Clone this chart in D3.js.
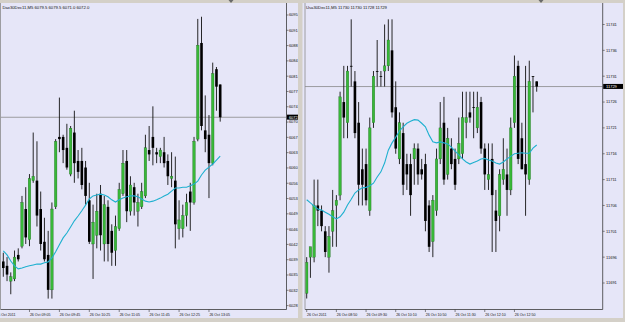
<!DOCTYPE html>
<html>
<head>
<meta charset="utf-8">
<script src="https://cdn.jsdelivr.net/npm/d3@7/dist/d3.min.js"></script>
<style>
  body { margin: 0; background: #d4d0c8; }
  svg { display: block; }
  text { font-family: "Liberation Sans", Arial, sans-serif; }
</style>
</head>
<body>
<div id="chart"></div>
<script>
// ---- Dax30Dec11, M5 (left window) ----
const daxOpen  = [6039.0,6038.0,6034.5,6035.0,6040.5,6042.5,6051.0,6044.0,6057.5,6057.5,6051.0,6043.5,6040.5,6032.5,6051.5,6067.5,6067.5,6065.0,6059.0,6068.5,6062.0,6062.0,6060.5,6053.0,6043.0,6045.0,6054.5,6043.0,6051.5,6046.0,6041.5,6046.5,6054.5,6062.0,6050.5,6056.0,6050.5,6051.5,6054.0,6064.5,6067.5,6064.0,6063.0,6064.0,6062.0,6058.0,6057.5,6046.5,6046.5,6049.5,6055.0,6052.5,6067.0,6089.0,6069.0,6068.0,6061.5,6083.0,6079.5];
const daxHigh  = [6041.0,6040.0,6036.5,6041.5,6042.0,6054.0,6056.0,6059.0,6068.5,6066.5,6055.0,6049.0,6046.0,6052.5,6067.0,6076.5,6068.0,6070.5,6070.0,6073.5,6064.5,6065.0,6062.0,6057.0,6052.0,6054.5,6056.5,6054.0,6053.0,6047.5,6049.5,6057.0,6064.5,6064.5,6058.5,6057.0,6054.5,6057.0,6068.0,6070.0,6074.5,6065.0,6065.0,6067.5,6063.5,6064.0,6063.0,6053.0,6052.0,6054.5,6057.0,6067.5,6094.5,6095.0,6077.0,6072.5,6084.5,6083.5,6079.5];
const daxLow   = [6035.5,6034.5,6031.5,6034.5,6039.0,6042.0,6043.0,6042.5,6057.0,6047.0,6041.5,6039.0,6030.5,6030.5,6051.0,6064.0,6061.5,6060.0,6058.5,6057.0,6058.0,6055.5,6052.0,6043.0,6035.0,6042.0,6041.5,6039.0,6039.0,6038.0,6038.0,6046.0,6054.0,6048.0,6049.5,6049.5,6047.0,6051.0,6053.5,6062.0,6061.0,6061.5,6061.5,6060.5,6056.5,6056.0,6042.0,6044.0,6044.5,6047.0,6046.0,6052.0,6066.5,6069.0,6064.0,6053.5,6061.0,6073.5,6071.0];
const daxClose = [6037.5,6036.0,6035.5,6040.0,6039.5,6052.5,6044.5,6058.0,6058.5,6049.5,6043.0,6039.5,6032.5,6051.0,6066.5,6067.0,6064.5,6060.5,6069.5,6061.5,6059.5,6056.5,6054.0,6043.5,6048.0,6050.5,6045.0,6052.0,6043.0,6041.0,6047.0,6055.5,6061.5,6050.5,6056.5,6052.5,6052.5,6055.0,6065.0,6063.5,6065.0,6063.5,6064.5,6061.5,6058.5,6058.5,6047.5,6048.5,6049.5,6052.5,6052.5,6066.5,6088.5,6070.0,6067.0,6061.5,6082.0,6079.0,6072.0];
const daxMA    = [6041.4,6040.5,6039.1,6038.0,6037.3,6037.5,6037.8,6038.0,6038.2,6038.4,6038.4,6038.7,6038.9,6039.8,6041.2,6042.8,6044.4,6045.5,6046.9,6048.3,6049.4,6050.6,6051.9,6053.3,6054.0,6054.2,6054.4,6054.2,6053.8,6053.1,6052.6,6053.1,6053.5,6053.8,6054.0,6054.0,6053.8,6053.3,6052.8,6052.6,6052.8,6053.1,6053.5,6054.0,6054.4,6055.1,6055.8,6055.8,6056.0,6056.0,6056.3,6056.7,6057.4,6058.8,6059.9,6060.6,6061.3,6062.2,6063.1];
const daxTicks = [6028.9,6032.4,6035.9,6039.4,6042.9,6046.4,6049.9,6053.4,6056.9,6060.4,6063.9,6067.4,6070.9,6074.4,6077.9,6081.4,6084.9,6088.4,6091.9,6095.4];
const daxTimeBars   = [-2, 7, 15, 23, 31, 39, 47, 55];
const daxTimeLabels = ["26 Oct 2011","26 Oct 09:05","26 Oct 09:45","26 Oct 10:25","26 Oct 11:05","26 Oct 11:45","26 Oct 12:25","26 Oct 13:05"];
const daxTitle = "Dax30Dec11,M5  6079.5 6079.5 6071.0 6072.0";

// ---- Usa30Dec11, M5 (right window) ----
const usaOpen  = [11689,11696,11696,11706,11705,11701,11696,11701,11706,11708,11726,11722,11733,11730,11722,11713,11714,11705,11722,11732,11731,11732,11733,11736,11725,11715,11720,11714,11714,11715,11717,11713,11714,11706,11699,11705,11715,11722,11712,11717,11715,11715,11716,11722,11724,11725,11721,11726,11717,11711,11715,11705,11704,11711,11712,11709,11722,11733,11719,11714,11711,11731,11730];
const usaHigh  = [11696,11698,11711,11711,11706,11702,11702,11709,11708,11728,11733,11733,11742,11732,11726,11717,11717,11723,11732,11738,11732,11741,11742,11742,11730,11724,11722,11716,11716,11718,11718,11715,11716,11707,11708,11717,11726,11727,11721,11719,11717,11723,11728,11728,11728,11728,11728,11727,11718,11718,11718,11709,11713,11719,11717,11723,11735,11734,11722,11733,11734,11731,11730];
const usaLow   = [11688,11692,11695,11702,11701,11696,11693,11698,11698,11707,11719,11719,11729,11719,11706,11706,11706,11704,11721,11729,11729,11729,11732,11723,11716,11714,11708,11709,11704,11710,11710,11711,11701,11697,11696,11704,11714,11710,11711,11713,11709,11714,11715,11719,11722,11719,11720,11716,11709,11709,11697,11697,11701,11710,11704,11708,11721,11714,11713,11704,11710,11724,11728];
const usaClose = [11695,11698,11706,11705,11702,11697,11700,11705,11707,11727,11723,11732,11733,11720,11710,11710,11707,11721,11731,11732,11731,11733,11738,11724,11717,11722,11710,11712,11708,11717,11712,11712,11703,11698,11707,11715,11721,11711,11719,11714,11710,11718,11723,11723,11723,11725,11725,11717,11712,11712,11708,11703,11712,11713,11709,11721,11731,11715,11713,11712,11730,11731,11729];
const usaMA    = [11707.1,11706.5,11705.9,11705.3,11705.1,11704.7,11704.3,11703.8,11703.4,11703.8,11704.7,11706.1,11707.2,11708.4,11709.0,11709.4,11709.5,11709.8,11710.3,11711.5,11712.5,11714.2,11716.7,11718.1,11719.2,11720.4,11721.2,11721.9,11722.3,11722.6,11722.5,11721.9,11721.2,11719.6,11718.3,11718.1,11718.3,11718.1,11717.9,11717.3,11716.5,11715.8,11715.0,11714.4,11714.0,11714.3,11714.6,11715.0,11715.1,11714.8,11714.6,11714.2,11714.0,11714.4,11715.0,11715.5,11716.0,11716.1,11716.2,11716.1,11716.1,11717.1,11717.7];
const usaTicks = [11691,11696,11701,11706,11711,11716,11721,11726,11731,11736,11741];
const usaTimeBars   = [0, 8, 16, 24, 32, 40, 48, 56];
const usaTimeLabels = ["26 Oct 2011","26 Oct 08:50","26 Oct 09:30","26 Oct 10:10","26 Oct 10:50","26 Oct 11:30","26 Oct 12:10","26 Oct 12:50"];
const usaTitle = "Usa30Dec11,M5  11730 11730 11728 11729";

const width = 625, height = 322;
const bg = "#e6e6f8", bull = "#38b838", bear = "#000000", maColor = "#1eb0cf";

const svg = d3.select("#chart").append("svg")
    .attr("width", width)
    .attr("height", height);

svg.append("rect").attr("width", width).attr("height", height).attr("fill", "#d4d0c8");

function drawPanel(p) {
  const n = p.open.length;
  const x = d3.scaleLinear().domain([0, n - 1]).range(p.xRange);
  const y = d3.scaleLinear().domain(p.yDomain).range(p.yRange);

  const g = svg.append("g");
  g.append("rect")
    .attr("x", p.left).attr("y", 3)
    .attr("width", p.right - p.left).attr("height", 315)
    .attr("fill", bg);

  const clipId = "clip" + p.id, panelClip = "pclip" + p.id;
  svg.append("clipPath").attr("id", clipId).append("rect")
    .attr("x", p.plotLeft).attr("y", 3)
    .attr("width", p.axisX - p.plotLeft).attr("height", p.axisY - 3);
  svg.append("clipPath").attr("id", panelClip).append("rect")
    .attr("x", p.left).attr("y", 3)
    .attr("width", p.right - p.left).attr("height", 315);

  const plot = g.append("g").attr("clip-path", "url(#" + clipId + ")");

  // current price line
  const last = p.close[n - 1];
  plot.append("line")
    .attr("x1", p.plotLeft).attr("x2", p.axisX)
    .attr("y1", y(last)).attr("y2", y(last))
    .attr("stroke", "#8a8a8a").attr("stroke-width", 0.8);

  const idx = d3.range(n);

  // wicks
  plot.selectAll(".wick").data(idx).enter().append("line")
    .attr("x1", i => x(i)).attr("x2", i => x(i))
    .attr("y1", i => y(p.high[i])).attr("y2", i => y(p.low[i]))
    .attr("stroke", "#111").attr("stroke-width", 0.9);

  // bodies
  plot.selectAll(".body").data(idx).enter().append("rect")
    .attr("x", i => x(i) - 1.3)
    .attr("width", 2.6)
    .attr("y", i => y(Math.max(p.open[i], p.close[i])))
    .attr("height", i => Math.max(0.8, Math.abs(y(p.open[i]) - y(p.close[i]))))
    .attr("fill", i => p.close[i] > p.open[i] ? bull : bear)
    .attr("stroke", i => p.close[i] > p.open[i] ? "#1d5e1d" : "none")
    .attr("stroke-width", 0.3);

  // moving average
  plot.append("path")
    .datum(idx)
    .attr("d", d3.line().x(i => x(i)).y(i => y(p.ma[i])))
    .attr("fill", "none")
    .attr("stroke", maColor)
    .attr("stroke-width", 1.1);

  // axes lines
  g.append("line").attr("x1", p.axisX).attr("x2", p.axisX).attr("y1", 3).attr("y2", p.axisY)
    .attr("stroke", "#3a3a3a").attr("stroke-width", 0.8);
  g.append("line").attr("x1", p.plotLeft).attr("x2", p.axisX).attr("y1", p.axisY).attr("y2", p.axisY)
    .attr("stroke", "#3a3a3a").attr("stroke-width", 0.8);
  g.append("line").attr("x1", p.plotLeft).attr("x2", p.plotLeft).attr("y1", 3).attr("y2", p.axisY)
    .attr("stroke", "#8a8a8a").attr("stroke-width", 0.8);

  const labels = g.append("g").attr("clip-path", "url(#" + panelClip + ")");

  // price scale
  p.ticks.forEach(v => {
    labels.append("line")
      .attr("x1", p.axisX).attr("x2", p.axisX + 2)
      .attr("y1", y(v)).attr("y2", y(v))
      .attr("stroke", "#3a3a3a").attr("stroke-width", 0.6);
    labels.append("text")
      .attr("x", p.axisX + p.labelDx).attr("y", y(v) + 1.4)
      .attr("font-size", 4).attr("fill", "#111")
      .text(p.fmt(v));
  });

  // current price box
  labels.append("rect")
    .attr("x", p.axisX + 0.5).attr("y", y(last) - 2.6)
    .attr("width", p.right - p.axisX).attr("height", 5)
    .attr("fill", "#000");
  labels.append("text")
    .attr("x", p.axisX + p.labelDx).attr("y", y(last) + 1.4)
    .attr("font-size", 4).attr("fill", "#fff")
    .text(p.fmt(last));

  // time scale
  p.timeBars.forEach((b, k) => {
    labels.append("line")
      .attr("x1", x(b)).attr("x2", x(b))
      .attr("y1", p.axisY).attr("y2", p.axisY + 2.5)
      .attr("stroke", "#3a3a3a").attr("stroke-width", 0.6);
    labels.append("text")
      .attr("x", x(b) + 0.4).attr("y", p.axisY + 6)
      .attr("font-size", 3.6).attr("fill", "#111")
      .text(p.timeLabels[k]);
  });

  // title
  labels.append("text")
    .attr("x", p.titleX).attr("y", 8.5)
    .attr("font-size", 4.2).attr("fill", "#111")
    .text(p.title);

  // chart shift marker
  g.append("path")
    .attr("d", d3.line()([[p.shiftX - 2.5, 0], [p.shiftX + 2.5, 0], [p.shiftX, 3]]))
    .attr("fill", "#6a6a6a");
}

drawPanel({
  id: "dax", open: daxOpen, high: daxHigh, low: daxLow, close: daxClose, ma: daxMA,
  ticks: daxTicks, timeBars: daxTimeBars, timeLabels: daxTimeLabels, title: daxTitle,
  fmt: v => v.toFixed(1),
  left: 0, right: 298, plotLeft: 0.5, axisX: 286.5, axisY: 309.5, labelDx: 2.4,
  xRange: [3.3, 220.2], yDomain: [6028.9, 6095.4], yRange: [305.6, 15.0],
  titleX: 2.5, shiftX: 231
});

drawPanel({
  id: "usa", open: usaOpen, high: usaHigh, low: usaLow, close: usaClose, ma: usaMA,
  ticks: usaTicks, timeBars: usaTimeBars, timeLabels: usaTimeLabels, title: usaTitle,
  fmt: v => String(v),
  left: 302.5, right: 623, plotLeft: 305, axisX: 602.7, axisY: 309.5, labelDx: 3.3,
  xRange: [306.7, 536.7], yDomain: [11691, 11741], yRange: [283.0, 24.5],
  titleX: 306, shiftX: 541
});
</script>
</body>
</html>
